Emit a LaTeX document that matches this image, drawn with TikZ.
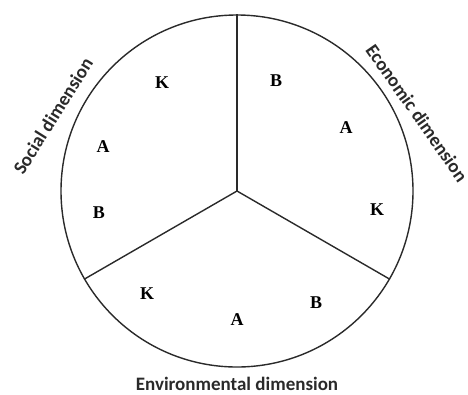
\documentclass[tikz,border=0pt]{standalone}
\usepackage{fontspec}
\setmainfont{Liberation Serif}
\newfontfamily\dimfont{Carlito}
\usetikzlibrary{positioning}
\definecolor{trait}{HTML}{2A2A2A}

\begin{document}
\begin{tikzpicture}[x=1pt, y=-1pt, every node/.style={font=\bfseries\fontsize{18}{18}\selectfont},
  dimlab/.style={font=\dimfont\bfseries\fontsize{19}{19}\selectfont, text=trait, inner sep=0.5pt}]
  \useasboundingbox (0,0) rectangle (468,394);
  % cercle
  \node[circle, draw=trait, line width=1.4pt, minimum size=352pt, inner sep=0pt] (disque) at (237,191) {};
  \coordinate (centre) at (237,191);
  % secteurs
  \foreach \ang in {90,210,330} \draw[trait, line width=1.4pt] (centre) -- (disque.\ang);
  % social
  \node (sK) at (162,83) {K};
  \node (sA) at (103,147) {A};
  \node (sB) at (99,213) {B};
  % economique
  \node (eB) at (276,81) {B};
  \node (eA) at (346,128) {A};
  \node (eK) at (377,210) {K};
  % environnement
  \node (vK) at (147,294) {K};
  \node (vA) at (237,320) {A};
  \node (vB) at (316,303) {B};
  % dimensions
  \node[dimlab, rotate=58] (social) at (53,116) {Social dimension};
  \node[dimlab, rotate=-55] (eco) at (417,113) {Economic dimension};
  \node[dimlab] (env) at (237,384) {Environmental dimension};
\end{tikzpicture}
\end{document}
